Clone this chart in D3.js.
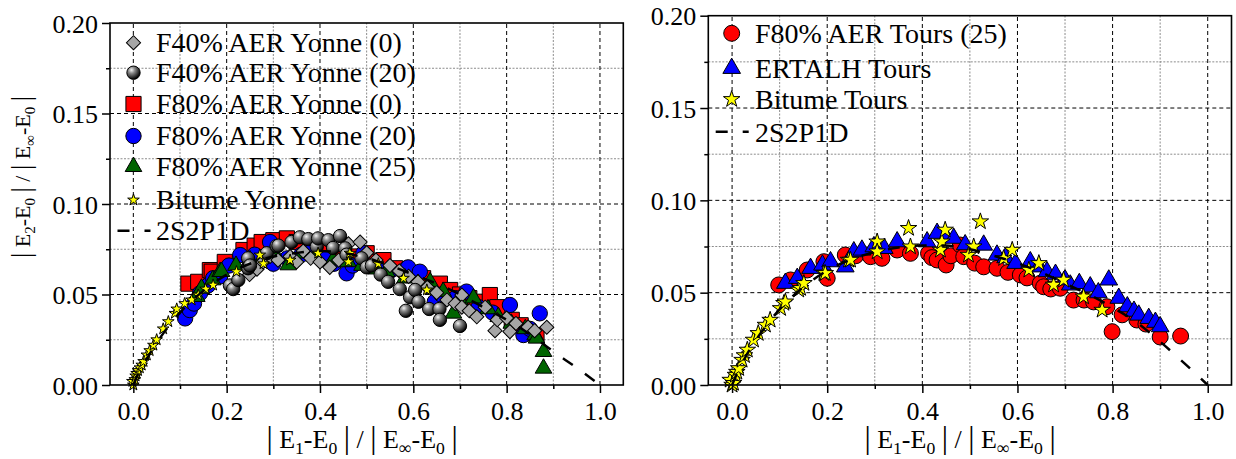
<!DOCTYPE html>
<html><head><meta charset="utf-8">
<script src="https://cdn.jsdelivr.net/npm/d3@7"></script>
<style>html,body{margin:0;padding:0;background:#fff;}svg{display:block;}</style>
</head><body>
<svg id="c" width="1236" height="459"></svg>
<script>
// ---------- DATA ----------
const xTickLabels = ["0.0","0.2","0.4","0.6","0.8","1.0"];
const yTickLabels = ["0.00","0.05","0.10","0.15","0.20"];

const legendLeft = ["F40% AER Yonne (0)","F40% AER Yonne (20)","F80% AER Yonne (0)","F80% AER Yonne (20)","F80% AER Yonne (25)","Bitume Yonne","2S2P1D"];
const legendRight = ["F80% AER Tours (25)","ERTALH Tours","Bitume Tours","2S2P1D"];

const f40Yonne0 = [[0.249,0.061],[0.265,0.064],[0.278,0.068],[0.293,0.071],[0.31,0.069],[0.336,0.071],[0.35,0.068],[0.364,0.074],[0.38,0.070],[0.40,0.068],[0.421,0.065],[0.44,0.069],[0.461,0.078],[0.486,0.079],[0.50,0.073],[0.52,0.069],[0.55,0.066],[0.57,0.063],[0.59,0.060],[0.61,0.057],[0.63,0.054],[0.65,0.051],[0.672,0.047],[0.69,0.045],[0.704,0.0497],[0.704,0.043],[0.72,0.041],[0.736,0.0377],[0.754,0.043],[0.775,0.030],[0.78,0.036],[0.80,0.037],[0.807,0.0295],[0.82,0.034],[0.846,0.032],[0.86,0.030],[0.886,0.0319]];
const f40Yonne20 = [[0.207,0.055],[0.214,0.053],[0.225,0.058],[0.246,0.0645],[0.246,0.070],[0.25,0.066],[0.286,0.0728],[0.307,0.0768],[0.311,0.077],[0.339,0.079],[0.357,0.0816],[0.375,0.0806],[0.393,0.0764],[0.396,0.081],[0.418,0.080],[0.428,0.0757],[0.443,0.0823],[0.454,0.0755],[0.457,0.072],[0.489,0.070],[0.50,0.065],[0.511,0.066],[0.53,0.061],[0.546,0.057],[0.571,0.053],[0.584,0.041],[0.593,0.0485],[0.604,0.0525],[0.611,0.046],[0.634,0.042],[0.656,0.042],[0.657,0.036],[0.70,0.0326]];
const f80Yonne0 = [[0.118,0.056],[0.139,0.057],[0.164,0.0635],[0.168,0.0626],[0.196,0.068],[0.236,0.0746],[0.26,0.077],[0.275,0.079],[0.30,0.080],[0.329,0.081],[0.35,0.079],[0.379,0.0746],[0.40,0.077],[0.42,0.074],[0.45,0.073],[0.48,0.071],[0.50,0.0728],[0.521,0.068],[0.536,0.069],[0.561,0.0645],[0.59,0.062],[0.621,0.059],[0.657,0.056],[0.679,0.0525],[0.70,0.050],[0.72,0.048],[0.75,0.046],[0.764,0.0497],[0.78,0.043],[0.811,0.036],[0.83,0.033],[0.864,0.0276]];
const f80Yonne20 = [[0.111,0.0368],[0.121,0.0414],[0.13,0.045],[0.143,0.0507],[0.16,0.055],[0.171,0.059],[0.186,0.060],[0.205,0.066],[0.229,0.0718],[0.26,0.072],[0.293,0.079],[0.30,0.067],[0.33,0.070],[0.36,0.072],[0.386,0.0764],[0.41,0.070],[0.43,0.067],[0.457,0.0617],[0.47,0.066],[0.493,0.0728],[0.52,0.066],[0.55,0.063],[0.586,0.0645],[0.589,0.065],[0.614,0.0626],[0.646,0.046],[0.66,0.050],[0.69,0.048],[0.714,0.0516],[0.74,0.043],[0.77,0.040],[0.807,0.0442],[0.836,0.0276],[0.85,0.031],[0.871,0.0396]];
const f80Yonne25 = [[0.136,0.0488],[0.146,0.0534],[0.17,0.058],[0.186,0.0626],[0.189,0.0626],[0.22,0.066],[0.25,0.069],[0.28,0.071],[0.30,0.074],[0.332,0.0663],[0.364,0.0728],[0.39,0.071],[0.428,0.069],[0.46,0.068],[0.49,0.066],[0.52,0.064],[0.543,0.0626],[0.582,0.059],[0.61,0.056],[0.636,0.057],[0.664,0.0516],[0.686,0.0396],[0.70,0.047],[0.729,0.048],[0.76,0.042],[0.782,0.0377],[0.81,0.034],[0.84,0.031],[0.861,0.0276],[0.864,0.0258],[0.879,0.0184],[0.879,0.0092]];
const bitumeYonne = [[0.0,0.0],[-0.002,0.002],[0.003,0.003],[0.005,0.005],[0.007,0.0064],[0.01,0.008],[0.014,0.0095],[0.018,0.011],[0.022,0.013],[0.029,0.0166],[0.035,0.019],[0.043,0.022],[0.05,0.025],[0.064,0.031],[0.075,0.035],[0.089,0.0396],[0.093,0.042],[0.11,0.045],[0.125,0.047],[0.139,0.0497],[0.155,0.053],[0.171,0.0552],[0.221,0.0626],[0.271,0.0718],[0.279,0.067],[0.336,0.069],[0.396,0.0728],[0.461,0.068],[0.464,0.0728],[0.525,0.067],[0.579,0.059],[0.629,0.0525]];
const model2S2P1DLeft = [[0,0],[0.01,0.006],[0.03,0.015],[0.06,0.027],[0.1,0.04],[0.15,0.052],[0.2,0.061],[0.25,0.067],[0.3,0.071],[0.35,0.073],[0.4,0.074],[0.45,0.073],[0.5,0.070],[0.55,0.066],[0.6,0.061],[0.65,0.056],[0.7,0.050],[0.75,0.043],[0.8,0.036],[0.85,0.028],[0.9,0.0185],[0.95,0.0095],[1.0,0]];

const f80Tours25 = [[0.098,0.0542],[0.123,0.0569],[0.158,0.0623],[0.193,0.0668],[0.2,0.0578],[0.238,0.0704],[0.26,0.070],[0.291,0.0695],[0.315,0.0686],[0.347,0.0731],[0.375,0.0713],[0.413,0.0713],[0.42,0.069],[0.431,0.0677],[0.45,0.065],[0.46,0.070],[0.48,0.0758],[0.487,0.0695],[0.51,0.066],[0.529,0.064],[0.557,0.0632],[0.58,0.061],[0.606,0.0596],[0.62,0.058],[0.648,0.0551],[0.655,0.0532],[0.67,0.052],[0.69,0.0524],[0.718,0.046],[0.74,0.046],[0.76,0.045],[0.788,0.0424],[0.799,0.0289],[0.82,0.038],[0.851,0.0352],[0.87,0.033],[0.90,0.026],[0.943,0.0265]];
const ertalhTours = [[0.112,0.0551],[0.137,0.0578],[0.165,0.0632],[0.19,0.065],[0.207,0.0668],[0.238,0.064],[0.256,0.0722],[0.273,0.0731],[0.298,0.0749],[0.32,0.074],[0.347,0.0776],[0.41,0.0776],[0.431,0.0822],[0.45,0.080],[0.466,0.0795],[0.49,0.076],[0.529,0.0758],[0.557,0.0704],[0.575,0.069],[0.596,0.0659],[0.627,0.0668],[0.645,0.064],[0.662,0.0614],[0.68,0.060],[0.70,0.057],[0.711,0.0542],[0.73,0.055],[0.753,0.0532],[0.77,0.050],[0.792,0.0569],[0.813,0.047],[0.831,0.0424],[0.845,0.040],[0.855,0.0379],[0.876,0.0361],[0.89,0.034],[0.90,0.0316]];
const bitumeTours = [[-0.004,0.0027],[0.0,0.0],[0.003,0.001],[0.007,0.0054],[0.01,0.007],[0.014,0.009],[0.021,0.0135],[0.026,0.016],[0.032,0.019],[0.045,0.0244],[0.055,0.028],[0.07,0.0325],[0.08,0.0352],[0.102,0.0415],[0.109,0.0443],[0.112,0.0451],[0.14,0.0515],[0.144,0.0524],[0.151,0.0551],[0.193,0.0605],[0.196,0.0605],[0.245,0.0677],[0.249,0.0677],[0.305,0.0776],[0.305,0.0722],[0.371,0.0849],[0.375,0.0749],[0.438,0.0731],[0.441,0.0776],[0.448,0.084],[0.497,0.0704],[0.508,0.0749],[0.522,0.0885],[0.571,0.0686],[0.589,0.0731],[0.624,0.0623],[0.645,0.0659],[0.676,0.0542],[0.697,0.0569],[0.739,0.0478],[0.778,0.0406]];
const model2S2P1DRight = [[0,0],[0.01,0.006],[0.03,0.016],[0.06,0.028],[0.1,0.041],[0.15,0.053],[0.2,0.062],[0.25,0.068],[0.3,0.072],[0.35,0.0745],[0.4,0.0755],[0.45,0.0755],[0.5,0.0735],[0.55,0.070],[0.6,0.066],[0.65,0.061],[0.7,0.055],[0.75,0.049],[0.8,0.042],[0.85,0.034],[0.9,0.0235],[0.95,0.012],[1.0,0]];

// ---------- DRAW ----------
const FONT = "Liberation Serif";
const svg = d3.select("#c");
const defs = svg.append("defs");
const rg = defs.append("radialGradient").attr("id","sphere").attr("cx","35%").attr("cy","30%").attr("r","70%");
rg.append("stop").attr("offset","0%").attr("stop-color","#f2f2f2");
rg.append("stop").attr("offset","35%").attr("stop-color","#8a8a8a");
rg.append("stop").attr("offset","100%").attr("stop-color","#000");

const styles = {
  diamond:{type:d3.symbolSquare, size:100, rot:45, fill:"#a6a6a6"},
  sphere:{type:d3.symbolCircle, size:140, fill:"url(#sphere)"},
  square:{type:d3.symbolSquare, size:230, fill:"#ff0000"},
  circle:{type:d3.symbolCircle, size:185, fill:"#0000ff"},
  triangle:{type:d3.symbolTriangle, size:120, fill:"#006400"},
  starS:{type:d3.symbolStar, size:42, fill:"#ffff00"},
  circleR:{type:d3.symbolCircle, size:200, fill:"#ff0000"},
  triangleR:{type:d3.symbolTriangle, size:135, fill:"#0000ff"},
  starL:{type:d3.symbolStar, size:85, fill:"#ffff00"}
};

function drawMarker(g, x, y, st){
  g.append("path")
   .attr("d", d3.symbol().type(st.type).size(st.size)())
   .attr("transform", `translate(${x},${y})` + (st.rot?` rotate(${st.rot})`:""))
   .attr("fill", st.fill).attr("stroke","#000").attr("stroke-width",1);
}

// parts: [text, kind] kind: 0 normal, 1 subscript, 2 bar (larger)
function subText(sel, parts, size){
  let shifted = false;
  parts.forEach(p=>{
    const t = sel.append("tspan").text(p[0]).attr("font-family",FONT).attr("xml:space","preserve");
    let dy = 0;
    if(p[1]===1){ if(!shifted){dy = size*0.22; shifted = true;} t.attr("font-size", size*0.68); }
    else { if(shifted){dy = -size*0.22; shifted=false;} if(p[1]===2) t.attr("font-size", size*1.2); }
    if(dy) t.attr("dy", dy);
  });
}
function titleParts(k){
  return [["|",2],["\u00A0E",0],[k,1],["-E",0],["0",1],["\u00A0",0],["|",2],["\u00A0/\u00A0",0],["|",2],["\u00A0E",0],["∞",1],["-E",0],["0",1],["\u00A0",0],["|",2]];
}

function panel(cfg){
  const g = svg.append("g");
  const x = d3.scaleLinear().domain([-0.05,1.05]).range([cfg.x0,cfg.x1]);
  const y = d3.scaleLinear().domain([0,0.2]).range([cfg.y0,cfg.y1]);
  const xMinor = d3.range(0.1,1.01,0.2);
  const yMinor = d3.range(0.025,0.2,0.05);
  const xMajor = d3.range(0,1.01,0.2);
  const yMajor = [0.05,0.10,0.15];
  g.selectAll(".gxm").data(xMinor).join("line").attr("x1",d=>x(d)).attr("x2",d=>x(d)).attr("y1",cfg.y0).attr("y2",cfg.y1)
    .attr("stroke","#8c8c8c").attr("stroke-width",1).attr("stroke-dasharray","2,1.5");
  g.selectAll(".gym").data(yMinor).join("line").attr("y1",d=>y(d)).attr("y2",d=>y(d)).attr("x1",cfg.x0).attr("x2",cfg.x1)
    .attr("stroke","#8c8c8c").attr("stroke-width",1).attr("stroke-dasharray","2,1.5");
  g.selectAll(".gxM").data(xMajor).join("line").attr("x1",d=>x(d)).attr("x2",d=>x(d)).attr("y1",cfg.y0).attr("y2",cfg.y1)
    .attr("stroke","#000").attr("stroke-width",1).attr("stroke-dasharray","4,3");
  g.selectAll(".gyM").data(yMajor).join("line").attr("y1",d=>y(d)).attr("y2",d=>y(d)).attr("x1",cfg.x0).attr("x2",cfg.x1)
    .attr("stroke","#000").attr("stroke-width",1).attr("stroke-dasharray","4,3");

  cfg.series.forEach(s=>{
    const sg = g.append("g");
    s.data.forEach(d=>drawMarker(sg, x(d[0]), y(d[1]), styles[s.style]));
  });
  g.append("path").datum(cfg.model)
    .attr("d", d3.line().x(d=>x(d[0])).y(d=>y(d[1])).curve(d3.curveMonotoneX))
    .attr("fill","none").attr("stroke","#000").attr("stroke-width",2.5).attr("stroke-dasharray","12,15");

  g.append("rect").attr("x",cfg.x0).attr("y",cfg.y1).attr("width",cfg.x1-cfg.x0).attr("height",cfg.y0-cfg.y1)
    .attr("fill","none").attr("stroke","#000").attr("stroke-width",1.6);

  const xAxis = d3.axisBottom(x).tickValues(d3.range(0,1.01,0.2)).tickFormat((d,i)=>xTickLabels[i]).tickSize(8).tickSizeOuter(0);
  const xg = g.append("g").attr("transform",`translate(0,${cfg.y0})`).call(xAxis);
  g.append("g").attr("transform",`translate(0,${cfg.y0})`)
    .call(d3.axisBottom(x).tickValues(xMinor).tickFormat("").tickSize(4).tickSizeOuter(0));
  const yAxis = d3.axisLeft(y).tickValues([0,0.05,0.1,0.15,0.2]).tickFormat((d,i)=>yTickLabels[i]).tickSize(8).tickSizeOuter(0);
  const yg = g.append("g").attr("transform",`translate(${cfg.x0},0)`).call(yAxis);
  g.append("g").attr("transform",`translate(${cfg.x0},0)`)
    .call(d3.axisLeft(y).tickValues(yMinor).tickFormat("").tickSize(4).tickSizeOuter(0));
  g.selectAll(".domain").remove();
  g.selectAll(".tick line").attr("stroke","#000").attr("stroke-width",1.5);
  xg.attr("font-family",FONT);
  yg.attr("font-family",FONT);
  xg.selectAll(".tick text").attr("font-family",FONT).attr("font-size",26).attr("fill","#000").attr("dy",0).attr("y",35);
  yg.selectAll(".tick text").attr("font-family",FONT).attr("font-size",26).attr("fill","#000").attr("x",-12).attr("dy",9);

  const xt = g.append("text").attr("x",cfg.xTitleX).attr("y",448).attr("text-anchor","middle")
    .attr("font-family",FONT).attr("font-size",26).attr("fill","#000");
  subText(xt, titleParts("1"), 26);

  cfg.legend.forEach((L,i)=>{
    const ly = cfg.legY[i];
    if(L.style){
      drawMarker(g, cfg.legSymX, ly, styles[L.style]);
    } else {
      g.append("line").attr("x1",cfg.legSymX-16).attr("x2",cfg.legSymX+17).attr("y1",ly).attr("y2",ly)
        .attr("stroke","#000").attr("stroke-width",2.5).attr("stroke-dasharray","12,15");
    }
    g.append("text").attr("x",cfg.legTextX).attr("y",ly+cfg.legDy).attr("font-family",FONT).attr("font-size",28)
      .attr("fill","#000").text(L.name);
  });
  return g;
}

panel({
  x0:110, x1:623.3, y0:385, y1:23, xTitleX:362,
  series:[
    {data:f80Yonne0, style:"square"},
    {data:f80Yonne20, style:"circle"},
    {data:f80Yonne25, style:"triangle"},
    {data:f40Yonne0, style:"diamond"},
    {data:f40Yonne20, style:"sphere"},
    {data:bitumeYonne, style:"starS"}
  ],
  model: model2S2P1DLeft,
  legSymX:133.5, legTextX:156, legDy:9,
  legY:[42.7,72.7,104,136,166.7,200,230.7],
  legend: legendLeft.map((n,i)=>({name:n, style:["diamond","sphere","square","circle","triangle","starS",null][i]}))
});

panel({
  x0:708.3, x1:1231.5, y0:385, y1:15.7, xTitleX:960,
  series:[
    {data:f80Tours25, style:"circleR"},
    {data:ertalhTours, style:"triangleR"},
    {data:bitumeTours, style:"starL"}
  ],
  model: model2S2P1DRight,
  legSymX:731.7, legTextX:755, legDy:10,
  legY:[33.3,68.3,99.3,131.7],
  legend: legendRight.map((n,i)=>({name:n, style:["circleR","triangleR","starL",null][i]}))
});

const yt = svg.append("text").attr("transform","translate(30,177) rotate(-90)").attr("text-anchor","middle")
  .attr("font-family",FONT).attr("font-size",22).attr("fill","#000");
subText(yt, titleParts("2"), 22);
</script>
</body></html>
